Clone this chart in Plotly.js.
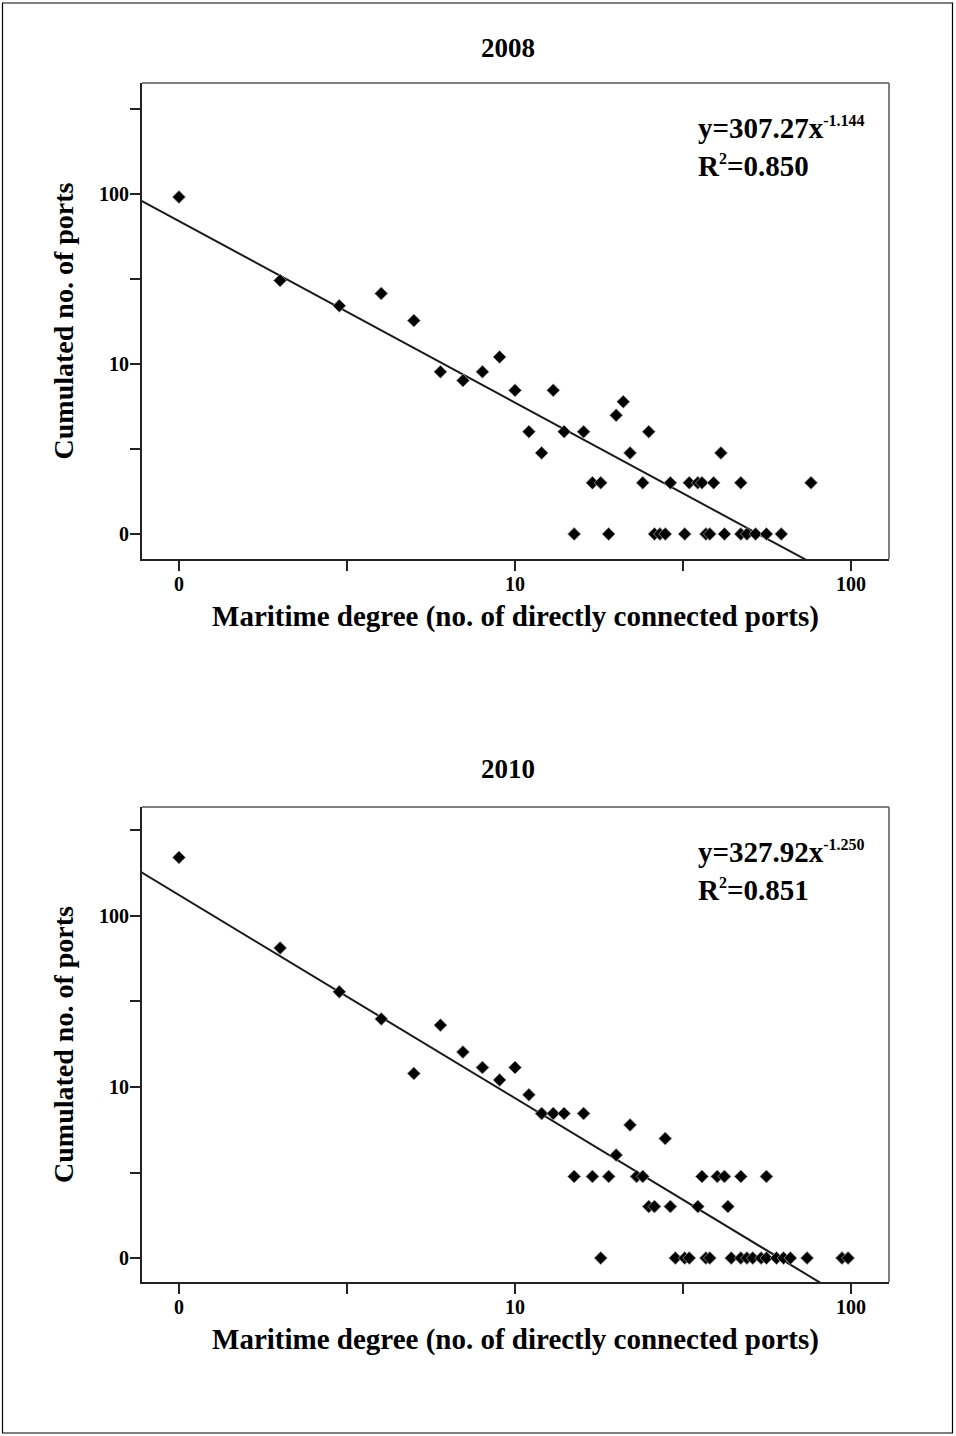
<!DOCTYPE html>
<html>
<head>
<meta charset="utf-8">
<script src="https://cdn.plot.ly/plotly-3.0.1.min.js"></script>
<style>html,body{margin:0;padding:0;background:#fff;}</style>
</head>
<body>
<div id="chart" style="width:956px;height:1436px;"></div>
<script>
// ---- Data (degree, cumulated number of ports) ----
const deg2008   = [1, 2, 3, 4, 5, 6, 7, 8, 9, 10, 11, 12, 13, 14, 15, 16, 17, 18, 19, 20, 21, 22, 24, 25, 26, 27, 28, 29, 32, 33, 35, 36, 37, 38, 39, 41, 42, 47, 47, 49, 52, 56, 62, 76];
const ports2008 = [96, 31, 22, 26, 18, 9, 8, 9, 11, 7, 4, 3, 7, 4, 1, 4, 2, 2, 1, 5, 6, 3, 2, 4, 1, 1, 1, 2, 1, 2, 2, 2, 1, 1, 2, 3, 1, 2, 1, 1, 1, 1, 1, 2];

const deg2010   = [1, 2, 3, 4, 5, 6, 7, 8, 9, 10, 11, 12, 13, 14, 15, 16, 17, 18, 19, 20, 22, 23, 24, 25, 26, 28, 29, 30, 32, 33, 35, 36, 37, 38, 40, 42, 43, 44, 47, 47, 49, 51, 54, 56, 56, 60, 63, 66, 74, 94, 98];
const ports2010 = [220, 65, 36, 25, 12, 23, 16, 13, 11, 13, 9, 7, 7, 7, 3, 7, 3, 1, 3, 4, 6, 3, 3, 2, 2, 5, 2, 1, 1, 1, 2, 3, 1, 1, 3, 3, 2, 1, 3, 1, 1, 1, 1, 3, 1, 1, 1, 1, 1, 1, 1];

// ---- Tick labels (as printed in the reference) ----
const xTickVals = [1, 10, 100];
const xTickText = ['0', '10', '100'];
const xMinorTickVals = [3.1623, 31.623];
const yTickVals = [1, 10, 100];
const yTickText = ['0', '10', '100'];
const yMinorTickVals = [3.1623, 31.623, 316.23];

// ---- Texts ----
const panelTitles = ['2008', '2010'];
const eqCoef = ['307.27', '327.92'];
const eqExp = ['-1.144', '-1.250'];
const eqR2 = ['0.850', '0.851'];
const xTitle = 'Maritime degree (no. of directly connected ports)';
const yTitle = 'Cumulated no. of ports';

// ---- Layout geometry (pixels) ----
const W = 956, H = 1436;
const xRangeLog = [-0.110, 2.113];
const yRangeLog = [[-0.147, 2.653], [-0.140, 2.637]];
const plotBoxes = [
  {left: 142, right: 889, top: 83, bottom: 559, titleY: 48, eqTop: 110},
  {left: 142, right: 889, top: 807, bottom: 1282, titleY: 769, eqTop: 834}
];

const FONT = "'Liberation Serif', 'Times New Roman', Times, serif";

// least-squares fit of log10(y) on log10(x)
function logFit(xs, ys) {
  const lx = xs.map(v => Math.log10(v)), ly = ys.map(v => Math.log10(v));
  const n = lx.length;
  const mx = lx.reduce((a, b) => a + b, 0) / n, my = ly.reduce((a, b) => a + b, 0) / n;
  let sxy = 0, sxx = 0;
  for (let i = 0; i < n; i++) { sxy += (lx[i] - mx) * (ly[i] - my); sxx += (lx[i] - mx) * (lx[i] - mx); }
  const b = sxy / sxx, a = my - b * mx;
  return {a, b};
}

const datasets = [[deg2008, ports2008], [deg2010, ports2010]];
const traces = [];
const layout = {
  width: W, height: H,
  margin: {l: 0, r: 0, t: 0, b: 0},
  paper_bgcolor: '#fff', plot_bgcolor: '#fff',
  showlegend: false,
  font: {family: FONT, color: '#000'},
  annotations: [],
  shapes: [
    {type: 'rect', xref: 'paper', yref: 'paper', x0: 2.5 / W, x1: 952.5 / W, y0: 1 - 1433 / H, y1: 1 - 3 / H,
     line: {color: '#000', width: 1.2}, fillcolor: 'rgba(0,0,0,0)'}
  ]
};

datasets.forEach(([xs, ys], i) => {
  const sfx = i === 0 ? '' : '2';
  const xa = 'x' + sfx, ya = 'y' + sfx;
  const box = plotBoxes[i];
  const fit = logFit(xs, ys);
  const lx0 = xRangeLog[0] - 0.05, lx1 = xRangeLog[1] + 0.05;
  traces.push({
    type: 'scatter', mode: 'lines', xaxis: xa, yaxis: ya,
    x: [Math.pow(10, lx0), Math.pow(10, lx1)],
    y: [Math.pow(10, fit.a + fit.b * lx0), Math.pow(10, fit.a + fit.b * lx1)],
    line: {color: '#1a1a1a', width: 2}, hoverinfo: 'skip'
  });
  traces.push({
    type: 'scatter', mode: 'markers', xaxis: xa, yaxis: ya,
    x: xs, y: ys,
    marker: {symbol: 'diamond', size: 10, color: '#000', line: {color: '#9a9a9a', width: 0.8}}
  });

  const xDom = [box.left / W, box.right / W];
  const yDom = [1 - box.bottom / H, 1 - box.top / H];
  const axisCommon = {
    showgrid: false, zeroline: false, showline: true, linecolor: '#222', linewidth: 2,
    ticks: 'outside', ticklen: 10, tickwidth: 2, tickcolor: '#222', tickmode: 'array',
    tickfont: {family: FONT, size: 20, color: '#000', weight: 'bold'},
    automargin: false
  };
  const minorCommon = {tickmode: 'array', ticks: 'outside', ticklen: 10, tickwidth: 2, tickcolor: '#222', showgrid: false};
  layout['xaxis' + sfx] = Object.assign({}, axisCommon, {
    type: 'log', range: xRangeLog, domain: xDom, anchor: ya,
    tickvals: xTickVals, ticktext: xTickText, ticklabelstandoff: -4,
    minor: Object.assign({}, minorCommon, {tickvals: xMinorTickVals}),
    title: {text: xTitle, font: {family: FONT, size: 29, color: '#000', weight: 'bold'}, standoff: 12}
  });
  layout['yaxis' + sfx] = Object.assign({}, axisCommon, {
    type: 'log', range: yRangeLog[i], domain: yDom, anchor: xa,
    tickvals: yTickVals, ticktext: yTickText, ticklabelstandoff: -3,
    minor: Object.assign({}, minorCommon, {tickvals: yMinorTickVals}),
    title: {text: yTitle, font: {family: FONT, size: 28, color: '#000', weight: 'bold'}, standoff: 17}
  });
  // top and right frame lines (grey)
  layout.shapes.push(
    {type: 'line', xref: xa + ' domain', yref: ya + ' domain', x0: 0, x1: 1, y0: 1, y1: 1, line: {color: '#808080', width: 2}},
    {type: 'line', xref: xa + ' domain', yref: ya + ' domain', x0: 1, x1: 1, y0: 0, y1: 1, line: {color: '#808080', width: 2}}
  );
  layout.annotations.push(
    {text: panelTitles[i], xref: 'paper', yref: 'paper', x: 508 / W, y: 1 - box.titleY / H,
     xanchor: 'center', yanchor: 'middle', showarrow: false,
     font: {family: FONT, size: 27, color: '#000', weight: 'bold'}},
    {text: 'y=' + eqCoef[i] + 'x<sup><span style="font-size:16px">' + eqExp[i] + '</span></sup><br>R<sup><span style="font-size:16px">2</span></sup>=' + eqR2[i],
     xref: 'paper', yref: 'paper', x: 696 / W, y: 1 - box.eqTop / H,
     xanchor: 'left', yanchor: 'top', align: 'left', showarrow: false,
     font: {family: FONT, size: 29, color: '#000', weight: 'bold'}}
  );
});

Plotly.newPlot('chart', traces, layout, {displayModeBar: false, staticPlot: true});
</script>
</body>
</html>
